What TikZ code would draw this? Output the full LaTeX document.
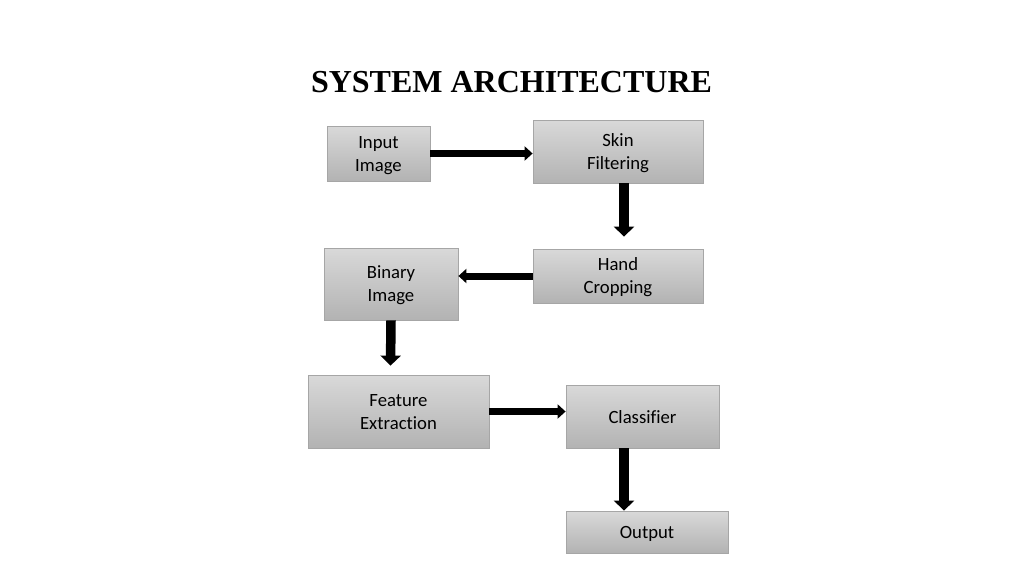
\documentclass[tikz,border=0pt]{standalone}
\usepackage{fontspec}
\setmainfont[Ligatures=NoCommon]{Carlito}
\newfontfamily\titlefont{Liberation Serif}
\usetikzlibrary{arrows.meta,calc}
\begin{document}
\begin{tikzpicture}[x=1pt,y=1pt,
  blk/.style={draw=gray!70,line width=0.8pt,top color=gray!30,bottom color=gray!60,
    inner sep=0pt,align=center,text depth=0pt,font=\fontsize{18.7}{23}\selectfont},
  harr/.style={line width=7pt,-{Triangle[length=8pt,width=14pt]}},
  varr/.style={line width=9.5pt,-{Triangle[length=10pt,width=20pt]}}]
\useasboundingbox (0,0) rectangle (1024,-576);
\fill[white] (0,0) rectangle (1024,-576);
\node[font=\titlefont\bfseries\fontsize{32}{36}\selectfont,anchor=base] (title) at (511.5,-92) {SYSTEM ARCHITECTURE};
\node[blk,minimum width=103pt,minimum height=55pt] (in) at (378.5,-153.5) {Input\\Image};
\node[blk,minimum width=170pt,minimum height=63pt] (skin) at (618,-151.5) {Skin\\Filtering};
\node[blk,minimum width=170pt,minimum height=54pt] (hand) at (618,-276) {Hand\\Cropping};
\node[blk,minimum width=134pt,minimum height=72pt] (bin) at (391,-284) {Binary\\Image};
\node[blk,minimum width=181pt,minimum height=73pt] (feat) at (398.5,-411.5) {Feature\\Extraction};
\node[blk,minimum width=153pt,minimum height=63pt] (cls) at (642.5,-416.5) {Classifier};
\node[blk,minimum width=162pt,minimum height=42pt] (out) at (647,-532) {Output};
\draw[harr] (in.east) -- (skin.west |- in.east);
\draw[varr] ($(skin.south)+(6,0)$) -- ($(hand.north)+(6,12)$);
\draw[harr] (hand.west) -- (bin.east |- hand.west);
\draw[varr] (bin.south) -- ($(feat.north)+(-8,9)$);
\draw[harr] (feat.east) -- (cls.west |- feat.east);
\draw[varr] ($(cls.south)+(-18.5,0)$) -- ($(out.north)+(-23,0)$);
\end{tikzpicture}
\end{document}
